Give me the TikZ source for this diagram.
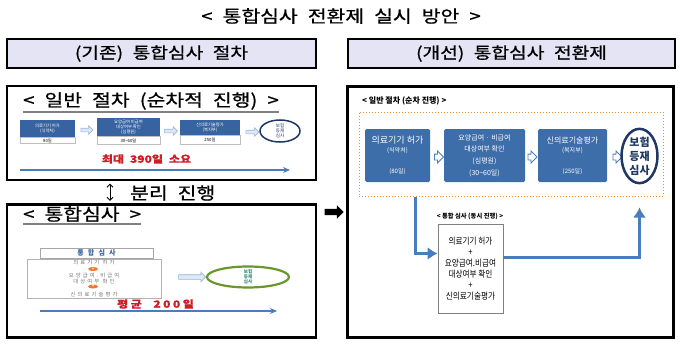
\documentclass[tikz,border=0pt]{standalone}
\usepackage{fontspec}
\setmainfont{Noto Sans CJK KR}
\newfontfamily\widekr[FakeStretch=1.2,WordSpace=2.2,FakeBold=0.8]{Noto Sans CJK KR}
\newfontfamily\narrowkr[FakeStretch=0.85]{Noto Sans CJK KR}
\usetikzlibrary{positioning,arrows.meta,shapes.geometric,shapes.arrows}
\definecolor{hdrlav}{RGB}{228,228,245}
\definecolor{stepblue}{RGB}{62,110,170}
\definecolor{oldblue}{RGB}{55,100,160}
\definecolor{navyring}{RGB}{30,55,100}
\definecolor{flowblue}{RGB}{74,126,187}
\definecolor{dotorange}{RGB}{238,140,50}
\definecolor{sumred}{RGB}{205,30,40}
\definecolor{ringgreen}{RGB}{105,150,45}
\definecolor{tealtext}{RGB}{40,140,120}
\definecolor{palearrow}{RGB}{150,180,220}
\definecolor{softgray}{RGB}{115,115,115}
\definecolor{plusorange}{RGB}{240,120,40}
\newcommand{\shaft}[1]{\rule{0pt}{#1}}
\tikzset{
  hdrbox/.style={draw, line width=1.6pt, fill=hdrlav, minimum height=29pt, font=\widekr\fontsize{16}{16}\selectfont},
  panel/.style={draw, line width=2.4pt},
  heading/.style={font=\widekr\fontsize{17}{17}\selectfont},
  underbar/.style={draw=gray, line width=1.5pt},
  oldstep/.style={fill=oldblue, text=white, align=center, font=\fontsize{4.3}{5}\selectfont},
  oldday/.style={draw=gray!50, fill=white, font=\fontsize{4.3}{4.3}\selectfont},
  oldarrow/.style={single arrow, draw=palearrow, fill=palearrow!30, line width=0.6pt, single arrow head extend=2.5pt},
  newstep/.style={fill=stepblue, rounded corners=1.5pt, text=white, align=center, minimum height=53pt},
  newarrow/.style={single arrow, draw=flowblue, fill=white, line width=0.8pt, minimum height=9pt, single arrow head extend=3pt},
  plusmark/.style={ellipse, fill=plusorange, text=white, minimum width=10pt, minimum height=4pt, font=\bfseries\fontsize{4}{4}\selectfont},
  thinflow/.style={draw=flowblue, line width=1.5pt, -{Stealth[length=7pt,width=6pt]}},
  bigflow/.style={draw=flowblue, line width=3.5pt, -{Latex[length=10pt,width=13pt]}}
}
\begin{document}
\begin{tikzpicture}[x=1pt, y=-1pt, every node/.style={inner sep=0pt}]
  \useasboundingbox (0,0) rectangle (680,353);
  \node[heading] (title) at (341,16) {< 통합심사 전환제 실시 방안 >};
  \node[hdrbox, minimum width=309pt] (hdrL) at (161.5,53.5) {(기존) 통합심사 절차};
  \node[hdrbox, minimum width=327pt] (hdrR) at (511.5,53.5) {(개선) 통합심사 전환제};

  % sequential procedure (old)
  \node[panel, minimum width=309pt, minimum height=94pt] (seqbox) at (161.5,133) {};
  \node[heading, anchor=west] (seqtitle) at (23,101) {< 일반 절차 (순차적 진행) >};
  \draw[underbar] ([yshift=-2pt]seqtitle.south west) -- ([yshift=-2pt]seqtitle.south east);
  \node[oldstep, minimum width=55pt, minimum height=17pt] (o1) at (47.5,128.5) {의료기기 허가\\(식약처)};
  \node[oldday, minimum width=55pt, minimum height=6pt, below=0pt of o1] (o1d) {80일};
  \node[oldstep, minimum width=63pt, minimum height=18pt] (o2) at (128.5,127) {요양급여 비급여\\대상여부 확인\\(심평원)};
  \node[oldday, minimum width=63pt, minimum height=8pt, below=0pt of o2] (o2d) {30\textasciitilde60일};
  \node[oldstep, minimum width=60pt, minimum height=15pt] (o3) at (210,127.5) {신의료기술평가\\(복지부)};
  \node[oldday, minimum width=60pt, minimum height=9pt, below=0pt of o3] (o3d) {250일};
  \node[oldarrow, minimum height=12pt] (oa1) at (86,130) {\shaft{3pt}};
  \node[oldarrow, minimum height=13pt] (oa2) at (170,131) {\shaft{3pt}};
  \node[oldarrow, minimum height=13pt] (oa3) at (251.5,132) {\shaft{3pt}};
  \node[ellipse, draw=navyring, line width=1.5pt, minimum width=40pt, minimum height=22pt, text=navyring, align=center, font=\fontsize{4.5}{5.2}\selectfont] (oend) at (280,131) {보험\\등재\\심사};
  \node[text=sumred, font=\widekr\bfseries\fontsize{10}{10}\selectfont] (maxday) at (146.5,159) {최대 390일 소요};
  \coordinate (sq0) at (20,170);
  \coordinate (sq1) at (290,170);
  \draw[thinflow] (sq0) -- (sq1);

  % integrated review (old)
  \node[panel, minimum width=309pt, minimum height=133pt] (intbox) at (161.5,271) {};
  \node[heading, anchor=west] (inttitle) at (23,214) {< 통합심사 >};
  \draw[underbar] ([yshift=-2pt]inttitle.south west) -- ([yshift=-2pt]inttitle.south east);
  \node[draw=gray!70, line width=1pt, fill=white, minimum width=113pt, minimum height=10pt, text=oldblue, font=\bfseries\fontsize{7}{7}\selectfont\addfontfeature{LetterSpace=60}] (ihdr) at (96.5,253) {통합심사};
  \node[draw=gray!60, line width=0.8pt, minimum width=134pt, minimum height=39pt, text=softgray, align=center, font=\fontsize{5.3}{5.5}\selectfont\addfontfeature{LetterSpace=40}] (ibody) at (94,278.5) {의료기기 허가\\[7.5pt]요양급여.비급여\\대상여부 확인\\[7.5pt]신의료기술평가};
  \node[plusmark] (pl1) at (93,269) {+};
  \node[plusmark] (pl2) at (93,286.5) {+};
  \node[oldarrow, minimum height=27pt] (iarr) at (191,277) {\shaft{4pt}};
  \node[ellipse, draw=ringgreen, line width=2.2pt, minimum width=82pt, minimum height=21pt, text=tealtext, align=center, font=\bfseries\fontsize{4.5}{5}\selectfont] (iend) at (248,277) {보험\\등재\\심사};
  \node[text=sumred, font=\widekr\bfseries\fontsize{10}{10}\selectfont\addfontfeature{LetterSpace=25}] (avgday) at (155.5,304) {평균 200일};
  \coordinate (iq0) at (40,311);
  \coordinate (iq1) at (277,311);
  \draw[thinflow] (iq0) -- (iq1);

  % separate
  \coordinate (sepx) at (110,0);
  \draw[{Straight Barb[length=3pt]}-{Straight Barb[length=3pt]}, line width=0.8pt, shorten <=2.5pt, shorten >=2.5pt] (seqbox.south -| sepx) -- (intbox.north -| sepx);
  \node[heading, anchor=west] (septxt) at (130,193) {분리 진행};

  \node[single arrow, fill=black, minimum height=19pt, single arrow head extend=3.5pt] (goarrow) at (332.5,212) {\shaft{6pt}};

  % new scheme
  \node[panel, minimum width=326pt, minimum height=251pt] (newbox) at (510.5,212) {};
  \node[anchor=west, font=\bfseries\fontsize{8}{8}\selectfont] (seqnote) at (362,101) {< 일반 절차 (순차 진행) >};
  \node[draw=dotorange, dotted, line width=1pt, minimum width=304pt, minimum height=84pt] (dotbox) at (511,154) {};
  \node[newstep, minimum width=65pt, font=\fontsize{6}{9}\selectfont] (r1) at (397.5,155.5) {{\fontsize{9}{9}\selectfont 의료기기 허가}\\(식약처)\\[12pt](80일)};
  \node[newstep, minimum width=81pt, font=\fontsize{7}{11.7}\selectfont] (r2) at (484.5,155.5) {요양급여 · 비급여\\대상여부 확인\\(심평원)\\(30\textasciitilde60일)};
  \node[newstep, minimum width=69pt, font=\fontsize{6}{9}\selectfont] (r3) at (572.5,155.5) {{\fontsize{8}{8}\selectfont 신의료기술평가}\\(복지부)\\[12pt](250일)};
  \node[newarrow] (ra1) at (437.5,157) {\shaft{5pt}};
  \node[newarrow] (ra2) at (531,157) {\shaft{5pt}};
  \node[newarrow] (ra3) at (616,157) {\shaft{5pt}};
  \node[ellipse, draw=navyring, line width=2.5pt, fill=white, minimum width=36pt, minimum height=54pt, text=navyring, align=center, font=\bfseries\fontsize{11}{14}\selectfont] (rc) at (639.5,156) {보험\\등재\\심사};
  \node[font=\bfseries\fontsize{6.3}{6.3}\selectfont] (simnote) at (470,216) {< 통합 심사 (동시 진행) >};
  \node[draw=gray, line width=0.8pt, fill=white, minimum width=65pt, minimum height=89pt, align=center, font=\narrowkr\fontsize{9}{11}\selectfont] (sim) at (470.5,268.5) {의료기기 허가\\+\\요양급여.비급여\\대상여부 확인\\+\\신의료기술평가};
  \draw[bigflow] ([xshift=57pt]dotbox.south west) |- ([yshift=15pt]sim.west);
  \draw[bigflow] ([yshift=11pt]sim.east) -| ([yshift=-11pt]dotbox.south -| rc.center);
\end{tikzpicture}
\end{document}
